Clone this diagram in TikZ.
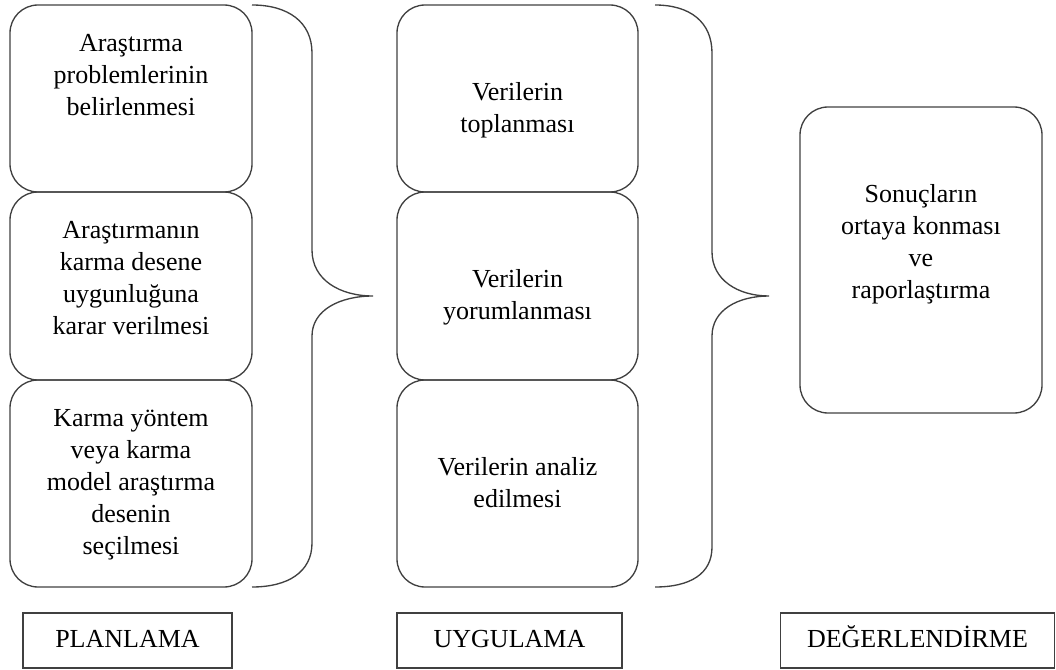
\documentclass[tikz,border=0pt]{standalone}
\usepackage{fontspec}
\setmainfont{Liberation Serif}
\usepackage{tikz}
\usetikzlibrary{positioning}
\definecolor{boxline}{gray}{0.25}

\tikzset{
  stage/.style={draw=boxline, line width=1pt, rounded corners=21pt, minimum width=181.5pt, inner sep=0pt},
  toptext/.style={anchor=north, yshift=-22.5pt, align=center, inner sep=0pt, font=\fontsize{19.5}{24}\selectfont},
  midtext/.style={toptext, yshift=-36pt},
  phase/.style={draw=boxline, line width=1pt, minimum height=41.25pt, inner sep=0pt, text height=14pt, text depth=4pt, font=\fontsize{19.5}{24}\selectfont},
  bracket/.style={draw=boxline, line width=1pt}
}

\begin{document}
\begin{tikzpicture}[x=0.75pt, y=-0.75pt]
\useasboundingbox (0,0) rectangle (1056,670);
\node[stage, minimum height=140.25pt, label={[toptext]north:{Araştırma\\problemlerinin\\belirlenmesi}}] (plan1) at (131,98.5) {};
\node[stage, minimum height=141pt, label={[toptext]north:{Araştırmanın\\karma desene\\uygunluğuna\\karar verilmesi}}] (plan2) at (131,286) {};
\node[stage, minimum height=155.25pt, label={[toptext]north:{Karma yöntem\\veya karma\\model araştırma\\desenin\\seçilmesi}}] (plan3) at (131,483.5) {};
\node[stage, minimum width=180.75pt, minimum height=140.25pt, label={[midtext]north:{Verilerin\\toplanması}}] (apply1) at (517.5,98.5) {};
\node[stage, minimum width=180.75pt, minimum height=141pt, label={[midtext]north:{Verilerin\\yorumlanması}}] (apply2) at (517.5,286) {};
\node[stage, minimum width=180.75pt, minimum height=155.25pt, label={[midtext]north:{Verilerin analiz\\edilmesi}}] (apply3) at (517.5,483.5) {};
\node[stage, minimum height=229.5pt, label={[midtext]north:{Sonuçların\\ortaya konması\\ve\\raporlaştırma}}] (report) at (921,260) {};
\draw[bracket] (252,5) .. controls (288,5) and (312,22) .. (312,53) -- (312,250) .. controls (312,280) and (340,296) .. (373,296) .. controls (340,296) and (312,310) .. (312,336) -- (312,543) .. controls (312,572) and (288,587) .. (252,587);
\draw[bracket] (655,5) .. controls (690,5) and (712,22) .. (712,53) -- (712,252) .. controls (712,280) and (738,296) .. (769,296) .. controls (738,296) and (712,310) .. (712,336) -- (712,547) .. controls (712,574) and (690,587) .. (655,587);
\node[phase, minimum width=156.75pt] (planning) at (127.5,640.5) {PLANLAMA};
\node[phase, minimum width=168.75pt] (applying) at (509.5,640.5) {UYGULAMA};
\node[phase, minimum width=205.5pt] (evaluating) at (917.5,640.5) {DEĞERLENDİRME};
\end{tikzpicture}
\end{document}
